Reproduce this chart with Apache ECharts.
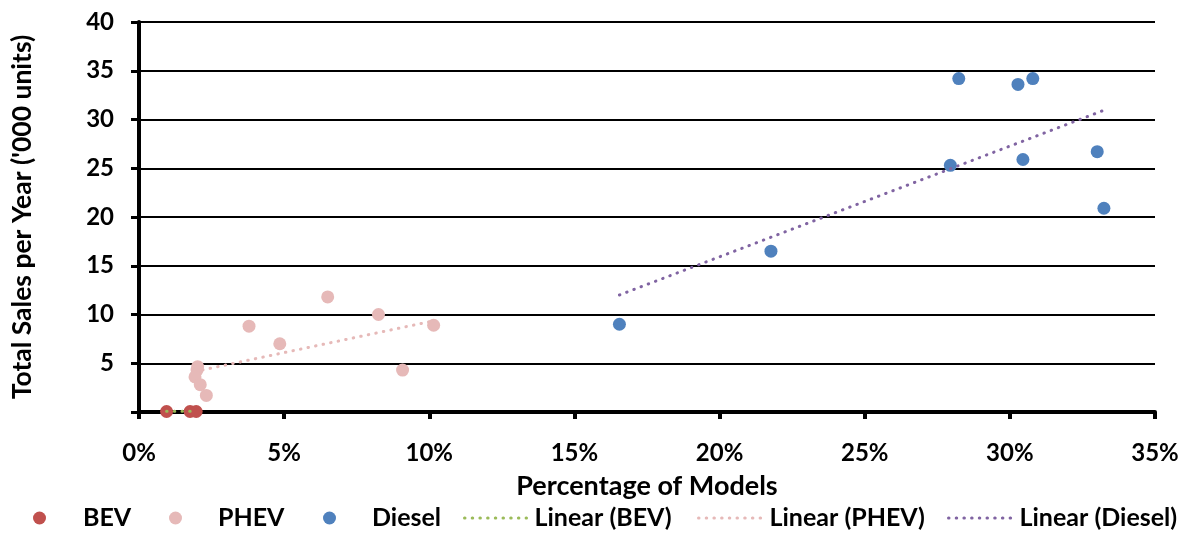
<!DOCTYPE html>
<html><head><meta charset="utf-8">
<script src="https://cdn.jsdelivr.net/npm/echarts@6/dist/echarts.min.js"></script>
<style>html,body{margin:0;padding:0;background:#fff}#c{width:1202px;height:536px}</style>
</head><body><div id="c"></div>
<script>
// x = percentage of models (%), y = total sales per year ('000 units)
const bevX = [0.95, 1.76, 1.97];
const bevY = [0.05, 0.05, 0.05];
const phevX = [6.5, 8.25, 10.15, 3.79, 4.85, 9.08, 2.02, 2.0, 1.93, 2.11, 2.32];
const phevY = [11.8, 10.0, 8.9, 8.8, 7.0, 4.3, 4.65, 4.3, 3.6, 2.8, 1.7];
const dieselX = [16.55, 21.77, 27.95, 28.24, 30.28, 30.79, 30.45, 33.01, 33.24];
const dieselY = [9.0, 16.5, 25.3, 34.2, 33.6, 34.2, 25.9, 26.7, 20.9];
// trend line endpoints
const bevTrendX = [0.95, 1.97];
const bevTrendY = [0.08, 0.08];
const phevTrendX = [1.93, 10.15];
const phevTrendY = [4.15, 9.35];
const dieselTrendX = [16.55, 33.24];
const dieselTrendY = [12.0, 30.95];
const xTicks = [0, 5, 10, 15, 20, 25, 30, 35];
const yTicks = [0, 5, 10, 15, 20, 25, 30, 35, 40];

const pts = (xs, ys) => xs.map((x, i) => [x, ys[i]]);
const FONT = 'Lato';
const legendText = {fontFamily: FONT, fontWeight: 'bold', fontSize: 25, color: '#000', lineHeight: 28};
const DASH = [0.5, 7.2];
function leg(name, left, iconW, textPad, isLine) {
  const l = {data: [name], left: left, top: 504, orient: 'horizontal', padding: 0,
    itemWidth: iconW, itemHeight: isLine ? 14 : 13,
    textStyle: Object.assign({}, legendText, {padding: [0, 0, 0, textPad]})};
  if (!isLine) l.icon = 'circle';
  else {
    l.itemStyle = {opacity: 0};
    l.lineStyle = {width: 3, type: DASH, cap: 'round'};
  }
  return l;
}
const dotted = (c) => ({color: c, width: 3, type: DASH, cap: 'round'});
const axisFont = {fontFamily: FONT, fontWeight: 'bold', color: '#000'};
const chart = echarts.init(document.getElementById('c'), null, {renderer: 'canvas'});
chart.setOption({
  animation: false,
  grid: {left: 139, right: 47, top: 22, bottom: 124},
  xAxis: {
    type: 'value', min: xTicks[0], max: xTicks[xTicks.length - 1], interval: 5,
    name: 'Percentage of Models', nameLocation: 'middle', nameGap: 61,
    nameTextStyle: Object.assign({fontSize: 27}, axisFont),
    axisLine: {lineStyle: {color: '#000', width: 4}},
    axisTick: {show: true, length: 7, lineStyle: {color: '#000', width: 4}},
    axisLabel: Object.assign({formatter: '{value}%', margin: 29, fontSize: 24}, axisFont),
    splitLine: {show: false}
  },
  yAxis: {
    type: 'value', min: yTicks[0], max: yTicks[yTicks.length - 1], interval: 5,
    name: "Total Sales per Year ('000 units)", nameLocation: 'middle', nameGap: 103,
    nameTextStyle: Object.assign({fontSize: 26.5}, axisFont),
    axisLine: {show: true, lineStyle: {color: '#000', width: 4}},
    axisTick: {show: true, length: 8, lineStyle: {color: '#000', width: 3}},
    axisLabel: Object.assign({formatter: v => v === 0 ? '' : String(v), margin: 25, fontSize: 24}, axisFont),
    splitLine: {show: true, lineStyle: {color: '#000', width: 2}}
  },
  legend: [
    leg('BEV', 33, 13, 32, false),
    leg('PHEV', 169, 13, 31, false),
    leg('Diesel', 323, 13, 31, false),
    leg('Linear (BEV)', 463, 62, 3, true),
    leg('Linear (PHEV)', 697, 63, 3, true),
    leg('Linear (Diesel)', 947, 63, 3, true)
  ],
  series: [
    {name: 'BEV', type: 'scatter', data: pts(bevX, bevY), symbolSize: 13, itemStyle: {color: '#C0504D', opacity: 1}, z: 2},
    {name: 'PHEV', type: 'scatter', data: pts(phevX, phevY), symbolSize: 13, itemStyle: {color: '#E6B9B8', opacity: 1}, z: 2},
    {name: 'Diesel', type: 'scatter', data: pts(dieselX, dieselY), symbolSize: 13, itemStyle: {color: '#4F81BD', opacity: 1}, z: 2},
    {name: 'Linear (BEV)', type: 'line', data: pts(bevTrendX, bevTrendY), symbol: 'none', lineStyle: dotted('#9BBB59'), itemStyle: {color: '#9BBB59'}, z: 3},
    {name: 'Linear (PHEV)', type: 'line', data: pts(phevTrendX, phevTrendY), symbol: 'none', lineStyle: dotted('#E6B9B8'), itemStyle: {color: '#E6B9B8'}, z: 3},
    {name: 'Linear (Diesel)', type: 'line', data: pts(dieselTrendX, dieselTrendY), symbol: 'none', lineStyle: dotted('#8064A2'), itemStyle: {color: '#8064A2'}, z: 3}
  ]
});
</script></body></html>
